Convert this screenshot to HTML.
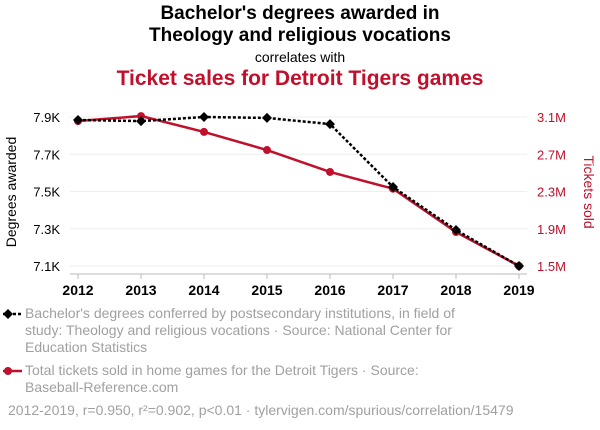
<!DOCTYPE html>
<html><head><meta charset="utf-8"><style>
body{margin:0;background:#fff;font-family:"Liberation Sans",sans-serif;}
#wrap{position:relative;width:600px;height:430px;overflow:hidden;}
.t{position:absolute;left:0;width:600px;text-align:center;}
.leg{position:absolute;left:25px;font-size:14px;color:#a0a0a0;line-height:17px;}
</style></head><body>
<div id="wrap">
<div class="t" style="top:3px;font-size:19px;font-weight:bold;line-height:22px;color:#000">Bachelor's degrees awarded in<br>Theology and religious vocations</div>
<div class="t" style="top:49px;font-size:14px;color:#000">correlates with</div>
<div class="t" style="top:67px;font-size:21px;font-weight:bold;color:#c0102b">Ticket sales for Detroit Tigers games</div>
<svg id="svg" width="600" height="430" style="position:absolute;left:0;top:0"></svg>
<div class="leg" style="top:305px">Bachelor's degrees conferred by postsecondary institutions, in field of<br>study: Theology and religious vocations · Source: National Center for<br>Education Statistics</div>
<div class="leg" style="top:362px">Total tickets sold in home games for the Detroit Tigers · Source:<br>Baseball-Reference.com</div>
<div class="leg" style="left:8px;top:402px">2012-2019, r=0.950, r²=0.902, p&lt;0.01 · tylervigen.com/spurious/correlation/15479</div>
</div>
<script>
const years=[2012,2013,2014,2015,2016,2017,2018,2019];
const degrees=[7.884,7.878,7.9,7.895,7.862,7.524,7.293,7.1];
const tickets=[3.057,3.11,2.94,2.745,2.51,2.33,1.865,1.5];
const leftTicks=[7.1,7.3,7.5,7.7,7.9];
const rightTicks=[1.5,1.9,2.3,2.7,3.1];
const NS="http://www.w3.org/2000/svg";
const svg=document.getElementById('svg');
const x=i=>78+(519-78)*(years[i]-2012)/7;
const yl=v=>266-(v-7.1)/0.8*149;
const yr=v=>266-(v-1.5)/1.6*149;
function mk(t,a,p){const e=document.createElementNS(NS,t);for(const k in a)e.setAttribute(k,a[k]);(p||svg).appendChild(e);return e;}
leftTicks.forEach((v,i)=>{
 const g=mk('line',{x1:70,x2:527,y1:yl(v),y2:yl(v),stroke:'#eee','stroke-width':1});
 
 
 const t=mk('text',{x:60,y:yl(v)+5,'text-anchor':'end','font-size':13,fill:'#000'});t.textContent=v.toFixed(1)+'K';
 
 
});
rightTicks.forEach(v=>{
 const t=mk('text',{x:537,y:yr(v)+5,'font-size':13,fill:'#c0102b'});t.textContent=v.toFixed(1)+'M';
 
 
});
const ax=mk('line',{x1:70,x2:527,y1:274,y2:274,stroke:'#bbb'});


years.forEach((yv,i)=>{
 mk('line',{x1:x(i),x2:x(i),y1:274,y2:279,stroke:'#bbb'});
 const t=mk('text',{x:x(i),y:295,'text-anchor':'middle','font-size':14,'font-weight':'bold',fill:'#000'});t.textContent=yv;
 
 
});
let t=mk('text',{transform:'translate(16,192) rotate(-90)','text-anchor':'middle','font-size':14,fill:'#000'});t.textContent='Degrees awarded';


t=mk('text',{transform:'translate(584,192) rotate(90)','text-anchor':'middle','font-size':14,fill:'#c0102b'});t.textContent='Tickets sold';


const rl=mk('polyline',{points:tickets.map((v,i)=>x(i)+','+yr(v)).join(' '),fill:'none',stroke:'#c0102b','stroke-width':2.5});


tickets.forEach((v,i)=>{const c=mk('circle',{cx:x(i),cy:yr(v),r:4,fill:'#c0102b'});
 
 });
const bl=mk('polyline',{points:degrees.map((v,i)=>x(i)+','+yl(v)).join(' '),fill:'none',stroke:'#000','stroke-width':2.5,'stroke-dasharray':'3,2'});


degrees.forEach((v,i)=>{const X=x(i),Y=yl(v);const p=mk('polygon',{points:`${X},${Y-5} ${X+5},${Y} ${X},${Y+5} ${X-5},${Y}`,fill:'#000'});
 
 });
// legend markers
mk('line',{x1:3,x2:22,y1:314,y2:314,stroke:'#000','stroke-width':2.5,'stroke-dasharray':'3,2'});
mk('polygon',{points:'8,309 13,314 8,319 3,314',fill:'#000'});
mk('line',{x1:3,x2:22,y1:371,y2:371,stroke:'#c0102b','stroke-width':2.5});
mk('circle',{cx:8,cy:371,r:4,fill:'#c0102b'});
</script>
</body></html>
